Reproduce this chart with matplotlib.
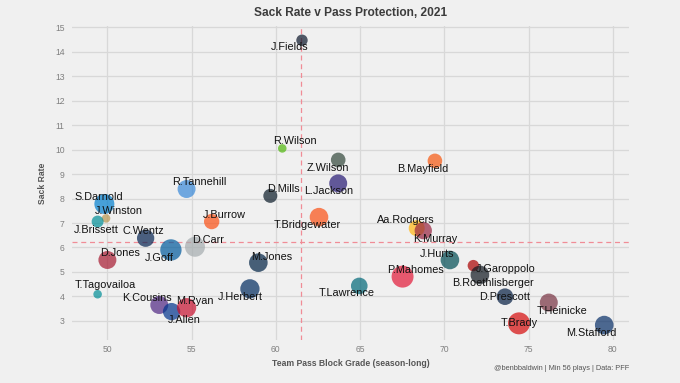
import matplotlib
matplotlib.use('Agg')
import matplotlib.pyplot as plt
import numpy as np

OUTPUT_PNG = 'out.png'

# --- Data ---
players = ['J.Fields', 'R.Wilson', 'R.Tannehill', 'D.Mills', 'Z.Wilson', 'L.Jackson',
           'B.Mayfield', 'S.Darnold', 'J.Winston', 'J.Brissett', 'C.Wentz', 'J.Goff',
           'D.Carr', 'J.Burrow', 'D.Jones', 'M.Jones', 'T.Tagovailoa', 'K.Cousins',
           'J.Allen', 'M.Ryan', 'J.Herbert', 'T.Bridgewater', 'Aa.Rodgers', 'K.Murray',
           'J.Hurts', 'J.Garoppolo', 'B.Roethlisberger', 'P.Mahomes', 'T.Lawrence',
           'D.Prescott', 'T.Heinicke', 'T.Brady', 'M.Stafford']
teams = ['CHI', 'SEA', 'TEN', 'HOU', 'NYJ', 'BAL',
         'CLE', 'CAR', 'NO', 'MIA', 'IND', 'DET',
         'LV', 'CIN', 'NYG', 'NE', 'MIA', 'MIN',
         'BUF', 'ATL', 'LAC', 'DEN', 'GB', 'ARI',
         'PHI', 'SF', 'PIT', 'KC', 'JAX',
         'DAL', 'WAS', 'TB', 'LA']
block_grade = [61.55, 60.38, 54.70, 59.67, 63.70, 63.70,
               69.44, 49.82, 49.92, 49.42, 52.27, 53.77,
               55.20, 56.19, 50.00, 58.96, 49.42, 53.08,
               53.81, 54.70, 58.46, 62.56, 68.36, 68.75,
               70.33, 71.72, 72.11, 67.52, 64.95,
               73.60, 76.20, 74.43, 79.49]
sack_rate = [14.47, 10.05, 8.39, 8.11, 9.58, 8.62,
             9.54, 7.78, 7.19, 7.06, 6.38, 5.90,
             6.03, 7.06, 5.49, 5.38, 4.09, 3.65,
             3.38, 3.54, 4.31, 7.24, 6.79, 6.69,
             5.49, 5.26, 4.88, 4.81, 4.43,
             3.99, 3.75, 2.90, 2.83]
dropbacks = [195, 110, 485, 295, 320, 485,
             320, 600, 110, 215, 450, 685,
             600, 355, 485, 520, 110, 485,
             450, 560, 560, 520, 385, 450,
             520, 195, 520, 725, 415,
             415, 485, 725, 520]

team_colors = {
    'CHI': '#0B162A', 'SEA': '#4FB70B', 'TEN': '#3889D9', 'HOU': '#091A28',
    'NYJ': '#32473A', 'BAL': '#241773', 'CLE': '#F7560E', 'CAR': '#007ECE',
    'NO': '#B89550', 'MIA': '#008E97', 'IND': '#032250', 'DET': '#005A9C',
    'LV': '#A5ACAF', 'CIN': '#FB4F14', 'NYG': '#A71930', 'NE': '#002244',
    'MIN': '#4F2683', 'BUF': '#00338D', 'ATL': '#C8102E', 'LAC': '#002A5E',
    'DEN': '#FB4F14', 'GB': '#FFB612', 'ARI': '#97233F', 'PHI': '#004C54',
    'SF': '#AA0000', 'PIT': '#101820', 'KC': '#E31837', 'JAX': '#006778',
    'DAL': '#041E42', 'WAS': '#773141', 'TB': '#D50A0A', 'LA': '#072E67',
}

# label offsets in pixels (layout only, like a repel pass)
label_offsets = {
    'J.Fields': (-12, -7), 'R.Wilson': (13, 7), 'R.Tannehill': (13, 7),
    'D.Mills': (13, 7), 'Z.Wilson': (-10, -8), 'L.Jackson': (-10, -8),
    'B.Mayfield': (-12, -8), 'S.Darnold': (-6, 7), 'J.Winston': (13, 7),
    'J.Brissett': (-1, -8), 'C.Wentz': (-2, 7), 'J.Goff': (-12, -8),
    'D.Carr': (13, 7), 'J.Burrow': (13, 7), 'D.Jones': (13, 7),
    'M.Jones': (13, 6), 'T.Tagovailoa': (8, 9), 'K.Cousins': (-12, 7),
    'J.Allen': (13, -8), 'M.Ryan': (8, 7), 'J.Herbert': (-10, -8),
    'T.Bridgewater': (-12, -8), 'Aa.Rodgers': (-11, 8), 'K.Murray': (12, -8),
    'J.Hurts': (-13, 6), 'J.Garoppolo': (32, -3), 'B.Roethlisberger': (13, -8),
    'P.Mahomes': (13, 7), 'T.Lawrence': (-13, -7), 'D.Prescott': (0, 0),
    'T.Heinicke': (13, -8), 'T.Brady': (0, 0), 'M.Stafford': (-13, -8),
}

avg_grade = 61.5
avg_sack_rate = 6.21

BG = '#F0F0F0'
plt.rcParams['font.family'] = ['Liberation Sans', 'DejaVu Sans']


def plot_chart():
    fig = plt.figure(figsize=(6.8, 3.83), dpi=100, facecolor=BG)
    ax = fig.add_axes([0.1054, 0.111, 0.8196, 0.821], facecolor=BG)

    ax.axvline(avg_grade, color='#F08C96', lw=0.9, ls=(0, (4, 3)), zorder=1)
    ax.axhline(avg_sack_rate, color='#F08C96', lw=0.9, ls=(0, (4, 3)), zorder=1)

    colors = [team_colors[t] for t in teams]
    sizes = np.array(dropbacks) * 0.345
    ax.scatter(block_grade, sack_rate, s=sizes, c=colors, alpha=0.7,
               linewidths=0, zorder=3)

    for name, x, y in zip(players, block_grade, sack_rate):
        dx, dy = label_offsets[name]
        ax.annotate(name, (x, y), xytext=(dx, dy), textcoords='offset pixels',
                    ha='center', va='center', fontsize=7.8, color='#111111',
                    zorder=4)

    ax.set_xlim(47.88, 80.96)
    ax.set_ylim(2.2, 15.05)
    ax.set_xticks([50, 55, 60, 65, 70, 75, 80])
    ax.set_yticks(range(3, 16))
    ax.grid(True, color='#D8D8D8', lw=0.9, zorder=0)
    ax.set_axisbelow(True)
    ax.tick_params(length=0, labelsize=6.2, labelcolor='#808080')
    ax.tick_params(axis='x', pad=3)
    ax.tick_params(axis='y', pad=5)
    for sp in ax.spines.values():
        sp.set_visible(False)

    ax.set_xlabel('Team Pass Block Grade (season-long)', fontsize=6.2,
                  fontweight='bold', color='#555555', labelpad=4)
    ax.set_ylabel('Sack Rate', fontsize=6.2, fontweight='bold',
                  color='#555555', labelpad=6)
    ax.set_title('Sack Rate v Pass Protection, 2021', fontsize=8.6,
                 fontweight='bold', color='#3C3C3C', pad=7)

    fig.text(0.925, 0.039, '@benbbaldwin | Min 56 plays | Data: PFF',
             ha='right', va='center', fontsize=5.3, color='#555555')

    fig.savefig(OUTPUT_PNG, dpi=100, facecolor=BG)
    plt.close(fig)


if __name__ == '__main__':
    plot_chart()
